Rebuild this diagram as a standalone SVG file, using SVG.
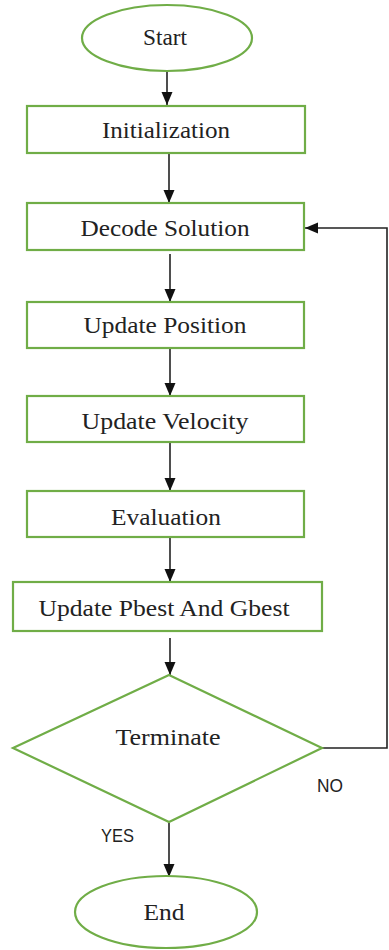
<svg xmlns="http://www.w3.org/2000/svg" width="389" height="950" viewBox="0 0 389 950">
  <style>
    .shape { fill: #ffffff; stroke: #70ad47; stroke-width: 2.2; }
    .label { font-family: "Liberation Serif", "Times New Roman", serif; font-size: 24px; fill: #222222; text-anchor: middle; }
    .tag { font-family: "Liberation Sans", Arial, sans-serif; font-size: 19px; fill: #222222; }
    .edge { fill: none; stroke: #222222; stroke-width: 1.6; }
  </style>
  <defs>
    <marker id="arrow" markerUnits="userSpaceOnUse" markerWidth="14" markerHeight="14" viewBox="0 0 14 14" refX="13" refY="7" orient="auto">
      <path d="M0,1.5 L13,7 L0,12.5 Z" fill="#111111"/>
    </marker>
  </defs>

  <rect width="389" height="950" fill="#ffffff"/>

  <g id="connectors">
    <line class="edge" x1="167" y1="72" x2="167" y2="105" marker-end="url(#arrow)"/>
    <line class="edge" x1="169" y1="154" x2="169" y2="203" marker-end="url(#arrow)"/>
    <line class="edge" x1="170" y1="254" x2="170" y2="302" marker-end="url(#arrow)"/>
    <line class="edge" x1="170" y1="349" x2="170" y2="396" marker-end="url(#arrow)"/>
    <line class="edge" x1="170" y1="443" x2="170" y2="491" marker-end="url(#arrow)"/>
    <line class="edge" x1="170" y1="537" x2="170" y2="582" marker-end="url(#arrow)"/>
    <line class="edge" x1="170" y1="638" x2="170" y2="675" marker-end="url(#arrow)"/>
    <line class="edge" x1="169" y1="823" x2="169" y2="877" marker-end="url(#arrow)"/>
    <polyline class="edge" points="322,748 387,748 387,228 305,228" marker-end="url(#arrow)"/>
  </g>

  <g id="start">
    <ellipse class="shape" cx="167" cy="38" rx="85" ry="33"/>
    <text class="label" x="165" y="45" textLength="44" lengthAdjust="spacingAndGlyphs">Start</text>
  </g>

  <g id="initialization">
    <rect class="shape" x="27" y="106" width="278" height="47"/>
    <text class="label" x="166" y="138" textLength="128" lengthAdjust="spacingAndGlyphs">Initialization</text>
  </g>

  <g id="decode-solution">
    <rect class="shape" x="27" y="203" width="277" height="47"/>
    <text class="label" x="165" y="236" textLength="169" lengthAdjust="spacingAndGlyphs">Decode Solution</text>
  </g>

  <g id="update-position">
    <rect class="shape" x="27" y="302" width="277" height="46"/>
    <text class="label" x="165" y="333" textLength="163" lengthAdjust="spacingAndGlyphs">Update Position</text>
  </g>

  <g id="update-velocity">
    <rect class="shape" x="27" y="396" width="277" height="46"/>
    <text class="label" x="165" y="429" textLength="167" lengthAdjust="spacingAndGlyphs">Update Velocity</text>
  </g>

  <g id="evaluation">
    <rect class="shape" x="27" y="491" width="277" height="46"/>
    <text class="label" x="166" y="525" textLength="110" lengthAdjust="spacingAndGlyphs">Evaluation</text>
  </g>

  <g id="update-pbest-gbest">
    <rect class="shape" x="13" y="582" width="309" height="49"/>
    <text class="label" x="164" y="616" font-size="26" textLength="251" lengthAdjust="spacingAndGlyphs">Update Pbest And Gbest</text>
  </g>

  <g id="terminate">
    <polygon class="shape" points="169,675 322,748 169,822 13,748"/>
    <text class="label" x="168" y="745" textLength="105" lengthAdjust="spacingAndGlyphs">Terminate</text>
  </g>

  <g id="end">
    <ellipse class="shape" cx="166" cy="912" rx="91" ry="36"/>
    <text class="label" x="164" y="920" textLength="41" lengthAdjust="spacingAndGlyphs">End</text>
  </g>

  <g id="branch-labels">
    <text class="tag" x="317" y="792" textLength="26" lengthAdjust="spacingAndGlyphs">NO</text>
    <text class="tag" x="101" y="842" textLength="33" lengthAdjust="spacingAndGlyphs">YES</text>
  </g>
</svg>
